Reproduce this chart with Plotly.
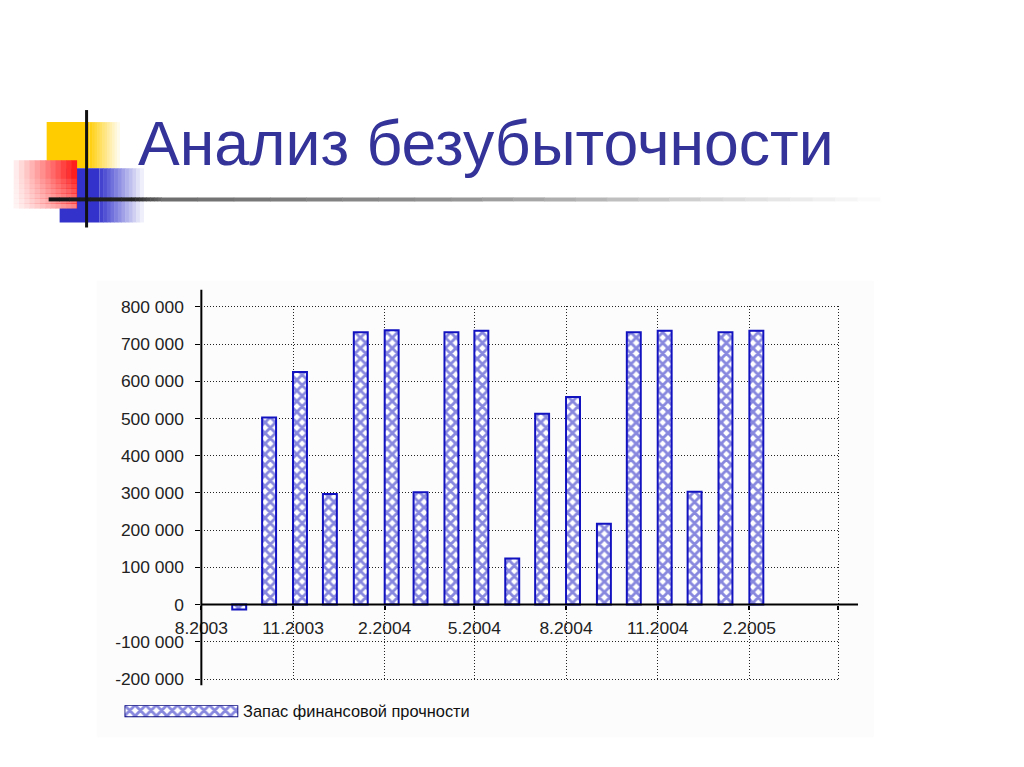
import plotly.graph_objects as go

W, H = 1024, 767
# the page is photographed slightly scaled and shifted; undo it so that
# positions below can be given in the reference picture's pixels
SX, OX = 0.9756, 25.3
SY, OY = 0.973, 9.3


def px_x(x):
    return (x - OX) / SX / W


def px_y(y):
    return 1 - (y - OY) / SY / H


def fs(size):
    return size / SX


title_text = "Анализ безубыточности"
series_name = "Запас финансовой прочности"

months = ["2003-09-01", "2003-10-01", "2003-11-01", "2003-12-01", "2004-01-01", "2004-02-01",
          "2004-03-01", "2004-04-01", "2004-05-01", "2004-06-01", "2004-07-01", "2004-08-01",
          "2004-09-01", "2004-10-01", "2004-11-01", "2004-12-01", "2005-01-01", "2005-02-01"]
reserve = [-13000, 503000, 625000, 297000, 732000, 737000,
           302000, 732000, 736000, 124000, 513000, 558000,
           217000, 732000, 736000, 303000, 732000, 736000]

x_tick_vals = ["2003-08-01", "2003-11-01", "2004-02-01", "2004-05-01",
               "2004-08-01", "2004-11-01", "2005-02-01", "2005-05-01"]
x_tick_text = ["8.2003", "11.2003", "2.2004", "5.2004", "8.2004", "11.2004", "2.2005", ""]
y_tick_vals = [-200000, -100000, 0, 100000, 200000, 300000, 400000, 500000, 600000, 700000, 800000]
y_tick_text = ["-200 000", "-100 000", "0", "100 000", "200 000", "300 000", "400 000",
               "500 000", "600 000", "700 000", "800 000"]

y_min, y_max = -200000, 800000
y_pad = 3000  # keeps the edge gridlines from being clipped away
xdom = [px_x(200), px_x(840)]
ydom = [px_y(678), px_y(305)]
zero_pos = ydom[0] + (0 - (y_min - y_pad)) / (y_max - y_min + 2 * y_pad) * (ydom[1] - ydom[0])

BLUE = "#1212c0"
DAY_MS = 86400000
pattern = dict(shape="x", fgcolor=BLUE, bgcolor="white", size=7.5, solidity=0.62)

fig = go.Figure()
fig.add_trace(go.Bar(
    x=months, y=reserve, name=series_name, showlegend=False,
    width=14 * DAY_MS, offset=0,
    marker=dict(color="white", line=dict(color=BLUE, width=2), pattern=pattern),
))
# legend key: one long patterned strip, drawn on its own tiny axes
fig.add_trace(go.Bar(
    x=[1], y=[0], orientation="h", width=1, xaxis="x2", yaxis="y2",
    showlegend=False, hoverinfo="skip",
    marker=dict(color="white", line=dict(color="#101080", width=1.8), pattern=pattern),
))


def lerp(c1, c2, t):
    return "rgb(%d,%d,%d)" % tuple(round(a + (b - a) * t) for a, b in zip(c1, c2))


shapes = []
# faint chart panel
shapes.append(dict(type="rect", xref="paper", yref="paper", layer="below",
                   x0=px_x(95), x1=px_x(874), y0=px_y(735), y1=px_y(280),
                   fillcolor="#fcfcfc", line=dict(width=0)))


def fade_rect(x0, x1, y0, y1, solid_to, c_from, c_to, n=12):
    # solid block then fading strips to the right
    out = [dict(type="rect", xref="paper", yref="paper", x0=px_x(x0), x1=px_x(solid_to),
                y0=px_y(y1), y1=px_y(y0), fillcolor=lerp(c_from, c_from, 0), line=dict(width=0))]
    step = (x1 - solid_to) / n
    for i in range(n):
        out.append(dict(type="rect", xref="paper", yref="paper",
                        x0=px_x(solid_to + i * step), x1=px_x(solid_to + (i + 1) * step + 0.5),
                        y0=px_y(y1), y1=px_y(y0), fillcolor=lerp(c_from, c_to, (i + 1) / (n + 1)),
                        line=dict(width=0)))
    return out


shapes += fade_rect(45, 118, 122, 168, 88, (255, 204, 0), (255, 255, 255))
shapes += fade_rect(58, 142, 168, 222, 98, (51, 51, 204), (255, 255, 255))
# red block: pale at the lower left, strong red towards the upper right
n = 12
for i in range(n):
    x0 = 12 + i * (75 - 12) / n
    x1 = 12 + (i + 1) * (75 - 12) / n + 0.5
    shapes.append(dict(type="rect", xref="paper", yref="paper", x0=px_x(x0), x1=px_x(x1),
                       y0=px_y(208), y1=px_y(160),
                       fillcolor=lerp((255, 235, 235), (255, 30, 30), i / (n - 1)),
                       line=dict(width=0)))
for i in range(6):
    shapes.append(dict(type="rect", xref="paper", yref="paper", x0=px_x(12), x1=px_x(75),
                       y0=px_y(208 - i * 5), y1=px_y(208 - (i + 1) * 5 + 0.5),
                       fillcolor="white", opacity=0.45 - i * 0.07, line=dict(width=0)))
# rule under the title, dark on the left and fading out to the right
stops = [(47, (20, 20, 20)), (130, (40, 40, 40)), (160, (110, 110, 110)),
         (450, (150, 150, 150)), (700, (215, 215, 215)), (880, (255, 255, 255))]
for (xa, ca), (xb, cb) in zip(stops[:-1], stops[1:]):
    k = 8
    for j in range(k):
        shapes.append(dict(type="line", xref="paper", yref="paper",
                           x0=px_x(xa + (xb - xa) * j / k), x1=px_x(xa + (xb - xa) * (j + 1) / k + 0.5),
                           y0=px_y(199), y1=px_y(199),
                           line=dict(color=lerp(ca, cb, j / k), width=4)))
shapes.append(dict(type="line", xref="paper", yref="paper", x0=px_x(85), x1=px_x(85),
                   y0=px_y(227), y1=px_y(110), line=dict(color="#111111", width=3)))

# axis lines reaching a little beyond the grid, like in the original
shapes.append(dict(type="line", xref="paper", yref="paper", x0=xdom[0], x1=xdom[0],
                   y0=px_y(683), y1=px_y(289), line=dict(color="black", width=2)))
shapes.append(dict(type="line", xref="paper", yref="y", x0=xdom[0], x1=px_x(858),
                   y0=0, y1=0, line=dict(color="black", width=2)))

grid_dash = "1px,2px"
fig.update_layout(
    width=W, height=H,
    margin=dict(l=0, r=0, t=0, b=0),
    paper_bgcolor="white", plot_bgcolor="rgba(0,0,0,0)",
    font=dict(family="Liberation Sans, Arial, sans-serif", color="#222222"),
    shapes=shapes,
    annotations=[
        dict(text=title_text, xref="paper", yref="paper",
             x=px_x(135), y=px_y(143), xanchor="left", yanchor="middle",
             showarrow=False, font=dict(size=fs(61), color="#333399")),
        dict(text=series_name, xref="paper", yref="paper",
             x=px_x(240), y=px_y(709), xanchor="left", yanchor="middle",
             showarrow=False, font=dict(size=fs(16), color="#111111")),
    ],
    xaxis=dict(type="date", domain=xdom, range=["2003-08-01", "2005-05-03"],
               anchor="free", position=zero_pos,
               tickmode="array", tickvals=x_tick_vals, ticktext=x_tick_text,
               ticks="outside", ticklen=4, tickcolor="black", tickwidth=2,
               tickfont=dict(size=fs(17)), ticklabelstandoff=4,
               showgrid=True, gridcolor="#222222", griddash=grid_dash, gridwidth=1,
               showline=False, zeroline=False, fixedrange=True),
    yaxis=dict(domain=ydom, range=[y_min - y_pad, y_max + y_pad],
               tickmode="array", tickvals=y_tick_vals, ticktext=y_tick_text,
               ticks="outside", ticklen=5, tickcolor="black",
               tickfont=dict(size=fs(17)), ticklabelstandoff=8,
               showgrid=True, gridcolor="#222222", griddash=grid_dash, gridwidth=1,
               showline=False, zeroline=False, fixedrange=True),
    xaxis2=dict(domain=[px_x(123), px_x(237)], range=[0, 1], anchor="y2", visible=False,
                fixedrange=True),
    yaxis2=dict(domain=[px_y(715), px_y(703)], range=[-0.5, 0.5], anchor="x2", visible=False,
                fixedrange=True),
)

fig.write_html("out.html", config={"displayModeBar": False},
               post_script="document.body.style.margin='0px';")
